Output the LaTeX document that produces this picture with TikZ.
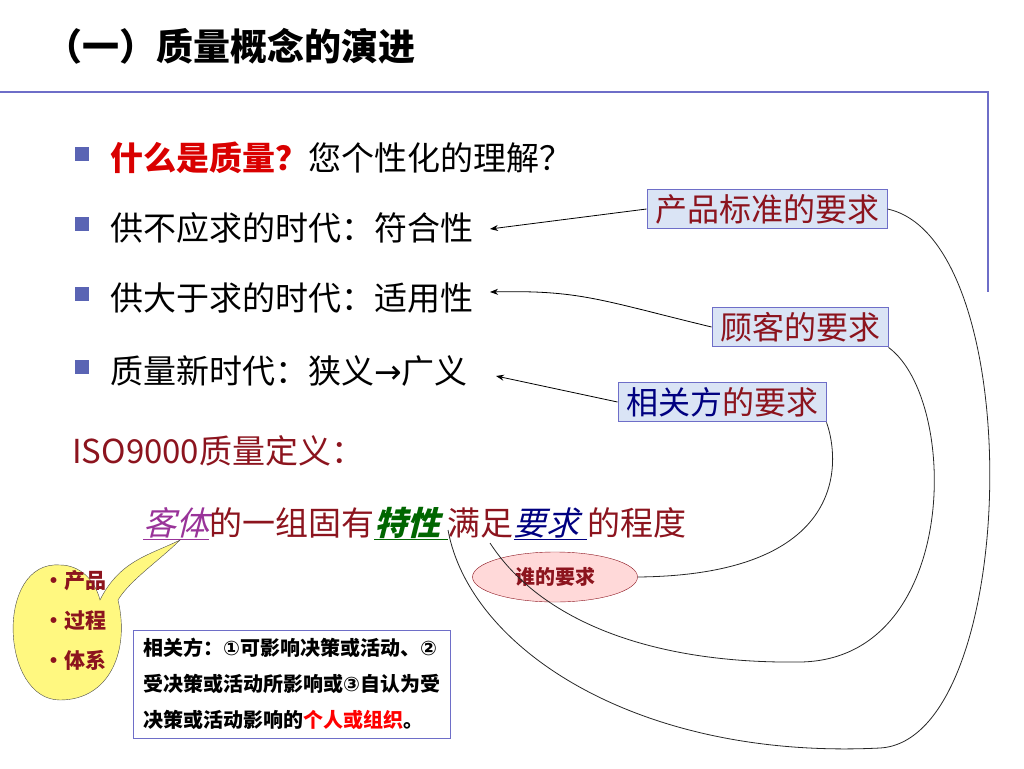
\documentclass[tikz,border=0pt]{standalone}
\usepackage{fontspec}
\setmainfont{Noto Sans CJK SC}
\newfontfamily\cjkit[FakeSlant=0.25]{Noto Sans CJK SC}
\newfontfamily\symfont{DejaVu Sans}
\usetikzlibrary{arrows.meta,shapes.geometric}
\definecolor{darkred}{RGB}{140,20,30}
\definecolor{frameblue}{RGB}{110,110,200}
\definecolor{boxfill}{RGB}{218,228,245}
\definecolor{bulletblue}{RGB}{90,100,180}

\tikzset{
  item/.style={anchor=base west, font=\fontsize{33}{36}\selectfont, inner sep=0pt},
  req/.style={draw=frameblue, fill=boxfill, text=darkred, font=\fontsize{32}{35}\selectfont, inner xsep=8pt, inner ysep=5pt, line width=1pt},
  link/.style={-{Stealth[length=8pt,width=6pt]}, line width=0.8pt},
  curve/.style={line width=0.8pt, black!85}
}

\begin{document}
\begin{tikzpicture}[x=1pt,y=-1pt]
  \useasboundingbox (0,0) rectangle (1024,768);
  % title and frame
  \node[anchor=base west, inner sep=0pt, font=\fontsize{37}{40}\selectfont\bfseries] (title) at (45,60) {（一）质量概念的演进};
  \draw[frameblue, line width=1.2pt] (0,92) -- (988,92) -- (988,292);

  % bullets
  \foreach \y in {157,227,297,370}
    \fill[bulletblue] (75,\y-10) rectangle ++(14,14);
  \node[item] (q) at (110,170) {{\bfseries\color{red!85!black}什么是质量？}您个性化的理解？};
  \node[item] (a1) at (110,240) {供不应求的时代：符合性};
  \node[item] (a2) at (110,310) {供大于求的时代：适用性};
  \node[item] (a3) at (110,383) {质量新时代：狭义{\symfont →}广义};
  \node[item, text=darkred] (iso) at (72,463) {ISO9000质量定义：};
  \node[item, text=darkred] (def) at (143,535) {{\cjkit\color{violet!80}\underline{客体}}的一组固有{\cjkit\bfseries\color{green!40!black}\underline{特性\ }}满足{\cjkit\color{blue!50!black}\underline{要求\ }}的程度};

  % requirement boxes
  \node[req] (std) at (767,209) {产品标准的要求};
  \node[req] (cus) at (800,327) {顾客的要求};
  \node[req] (par) at (722,402) {{\color{blue!50!black}相关方}的要求};
  \coordinate (t1) at (490,229);
  \coordinate (t2) at (490,292);
  \coordinate (t3) at (496,376);
  \draw[link] (std.west) -- (t1);
  \draw[link] (cus.west) .. controls (600,300) and (580,290) .. (t2);
  \draw[link] (par.west) -- (t3);

  % who
  \node[ellipse, draw=darkred, fill=red!15, minimum width=165pt, minimum height=50pt,
        font=\fontsize{20}{22}\selectfont\bfseries, text=darkred] (who) at (555,577) {谁的要求};
  \coordinate (kt) at (448,530);
  \coordinate (yq) at (490,543);
  \draw[curve] (std.east) .. controls (1030,240) and (1020,740) .. (880,748)
        .. controls (640,760) and (470,650) .. (kt);
  \draw[curve] (cus.south east) .. controls (960,400) and (960,660) .. (800,662)
        .. controls (650,664) and (540,620) .. (yq);
  \draw[curve] (par.south east) .. controls (840,460) and (850,575) .. (who.east);

  % callout
  \draw[black!70, fill=yellow!50] (100,600) .. controls (120,560) and (150,555) .. (180,540)
        .. controls (160,560) and (130,580) .. (118,600)
        .. controls (130,650) and (110,700) .. (60,700)
        .. controls (0,700) and (-5,560) .. (60,565)
        .. controls (80,565) and (95,580) .. (100,600) -- cycle;
  \node[anchor=west, text=darkred, align=left, font=\fontsize{21}{40}\selectfont\bfseries] (obj) at (40,620)
        {•产品\\•过程\\•体系};

  % note
  \node[draw=frameblue, fill=white, anchor=north west, align=left, inner xsep=10pt, inner ysep=8pt,
        font=\fontsize{20}{36}\selectfont\bfseries] (note) at (133,630)
        {相关方：{\symfont ①}可影响决策或活动、{\symfont ②}\\受决策或活动所影响或{\symfont ③}自认为受\\决策或活动影响的{\color{red}个人或组织}。};
\end{tikzpicture}
\end{document}
